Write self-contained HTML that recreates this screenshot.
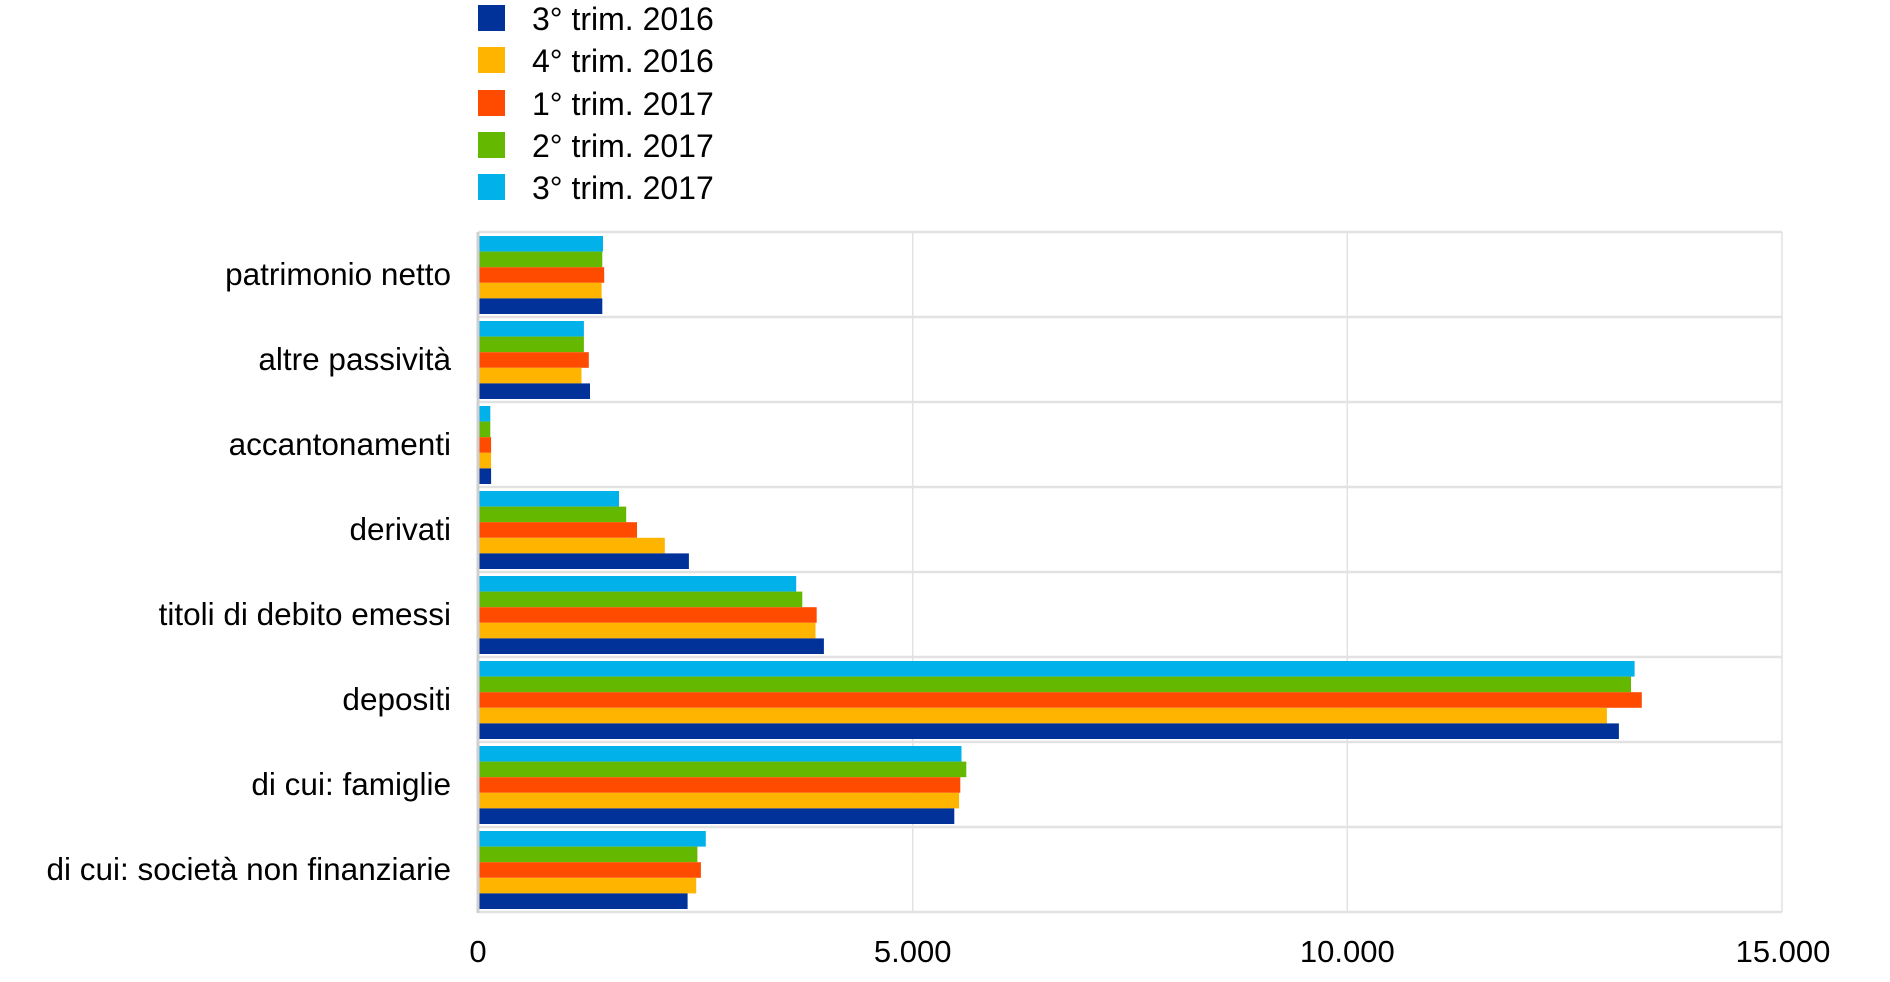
<!DOCTYPE html>
<html><head><meta charset="utf-8"><style>
html,body{margin:0;padding:0;background:#fff;}
svg{display:block;font-family:"Liberation Sans",Arial,sans-serif;}
</style></head><body>
<svg width="1890" height="982" viewBox="0 0 1890 982" xmlns="http://www.w3.org/2000/svg">
<rect width="1890" height="982" fill="#fff"/>
<g font-size="32" fill="#000">
<rect x="478" y="5" width="27" height="26" fill="#003299"/><text x="532" y="30">3° trim. 2016</text>
<rect x="478" y="47" width="27" height="26" fill="#FFB400"/><text x="532" y="72">4° trim. 2016</text>
<rect x="478" y="90" width="27" height="26" fill="#FF4B00"/><text x="532" y="115">1° trim. 2017</text>
<rect x="478" y="132" width="27" height="26" fill="#65B800"/><text x="532" y="157">2° trim. 2017</text>
<rect x="478" y="174" width="27" height="26" fill="#00B1EA"/><text x="532" y="199">3° trim. 2017</text>
</g>
<g stroke="#e2e2e2" stroke-width="1.5" fill="none">
<line x1="912.7" y1="232" x2="912.7" y2="912"/>
<line x1="1347.3" y1="232" x2="1347.3" y2="912"/>
<line x1="1782" y1="232" x2="1782" y2="912"/>
</g>
<g stroke="#e2e2e2" stroke-width="2.5">
<line x1="478" y1="232" x2="1782" y2="232"/>
<line x1="478" y1="317" x2="1782" y2="317"/>
<line x1="478" y1="402" x2="1782" y2="402"/>
<line x1="478" y1="487" x2="1782" y2="487"/>
<line x1="478" y1="572" x2="1782" y2="572"/>
<line x1="478" y1="657" x2="1782" y2="657"/>
<line x1="478" y1="742" x2="1782" y2="742"/>
<line x1="478" y1="827" x2="1782" y2="827"/>
<line x1="478" y1="912" x2="1782" y2="912"/>
</g>
<g>
<g>
<rect x="479" y="236" width="124.0" height="15.6" fill="#00B1EA"/>
<rect x="479" y="251.6" width="123.3" height="15.6" fill="#65B800"/>
<rect x="479" y="267.2" width="125.2" height="15.6" fill="#FF4B00"/>
<rect x="479" y="282.8" width="122.6" height="15.6" fill="#FFB400"/>
<rect x="479" y="298.4" width="123.3" height="15.6" fill="#003299"/>
</g>
<g transform="translate(0,85)">
<rect x="479" y="236" width="104.9" height="15.6" fill="#00B1EA"/>
<rect x="479" y="251.6" width="104.9" height="15.6" fill="#65B800"/>
<rect x="479" y="267.2" width="109.8" height="15.6" fill="#FF4B00"/>
<rect x="479" y="282.8" width="102.5" height="15.6" fill="#FFB400"/>
<rect x="479" y="298.4" width="111.0" height="15.6" fill="#003299"/>
</g>
<g transform="translate(0,170)">
<rect x="479" y="236" width="11.3" height="15.6" fill="#00B1EA"/>
<rect x="479" y="251.6" width="11.3" height="15.6" fill="#65B800"/>
<rect x="479" y="267.2" width="12.1" height="15.6" fill="#FF4B00"/>
<rect x="479" y="282.8" width="12.1" height="15.6" fill="#FFB400"/>
<rect x="479" y="298.4" width="12.1" height="15.6" fill="#003299"/>
</g>
<g transform="translate(0,255)">
<rect x="479" y="236" width="140.0" height="15.6" fill="#00B1EA"/>
<rect x="479" y="251.6" width="147.2" height="15.6" fill="#65B800"/>
<rect x="479" y="267.2" width="158.0" height="15.6" fill="#FF4B00"/>
<rect x="479" y="282.8" width="185.8" height="15.6" fill="#FFB400"/>
<rect x="479" y="298.4" width="209.9" height="15.6" fill="#003299"/>
</g>
<g transform="translate(0,340)">
<rect x="479" y="236" width="317.2" height="15.6" fill="#00B1EA"/>
<rect x="479" y="251.6" width="323.3" height="15.6" fill="#65B800"/>
<rect x="479" y="267.2" width="337.7" height="15.6" fill="#FF4B00"/>
<rect x="479" y="282.8" width="336.5" height="15.6" fill="#FFB400"/>
<rect x="479" y="298.4" width="344.9" height="15.6" fill="#003299"/>
</g>
<g transform="translate(0,425)">
<rect x="479" y="236" width="1155.6" height="15.6" fill="#00B1EA"/>
<rect x="479" y="251.6" width="1152.0" height="15.6" fill="#65B800"/>
<rect x="479" y="267.2" width="1162.8" height="15.6" fill="#FF4B00"/>
<rect x="479" y="282.8" width="1127.9" height="15.6" fill="#FFB400"/>
<rect x="479" y="298.4" width="1139.9" height="15.6" fill="#003299"/>
</g>
<g transform="translate(0,510)">
<rect x="479" y="236" width="482.5" height="15.6" fill="#00B1EA"/>
<rect x="479" y="251.6" width="487.3" height="15.6" fill="#65B800"/>
<rect x="479" y="267.2" width="481.3" height="15.6" fill="#FF4B00"/>
<rect x="479" y="282.8" width="480.1" height="15.6" fill="#FFB400"/>
<rect x="479" y="298.4" width="475.3" height="15.6" fill="#003299"/>
</g>
<g transform="translate(0,595)">
<rect x="479" y="236" width="226.8" height="15.6" fill="#00B1EA"/>
<rect x="479" y="251.6" width="218.4" height="15.6" fill="#65B800"/>
<rect x="479" y="267.2" width="221.9" height="15.6" fill="#FF4B00"/>
<rect x="479" y="282.8" width="217.2" height="15.6" fill="#FFB400"/>
<rect x="479" y="298.4" width="208.6" height="15.6" fill="#003299"/>
</g>
</g>
<line x1="478" y1="232" x2="478" y2="913" stroke="#d0d0d0" stroke-width="3"/>
<g font-size="31.5" fill="#000" text-anchor="end">
<text x="451" y="285">patrimonio netto</text>
<text x="451" y="370">altre passività</text>
<text x="451" y="455">accantonamenti</text>
<text x="451" y="540">derivati</text>
<text x="451" y="625">titoli di debito emessi</text>
<text x="451" y="710">depositi</text>
<text x="451" y="795">di cui: famiglie</text>
<text x="451" y="880">di cui: società non finanziarie</text>
</g>
<g font-size="31" fill="#000" text-anchor="middle">
<text x="478" y="962">0</text>
<text x="912.7" y="962">5.000</text>
<text x="1347.3" y="962">10.000</text>
<text x="1783" y="962">15.000</text>
</g>
</svg>
</body></html>
